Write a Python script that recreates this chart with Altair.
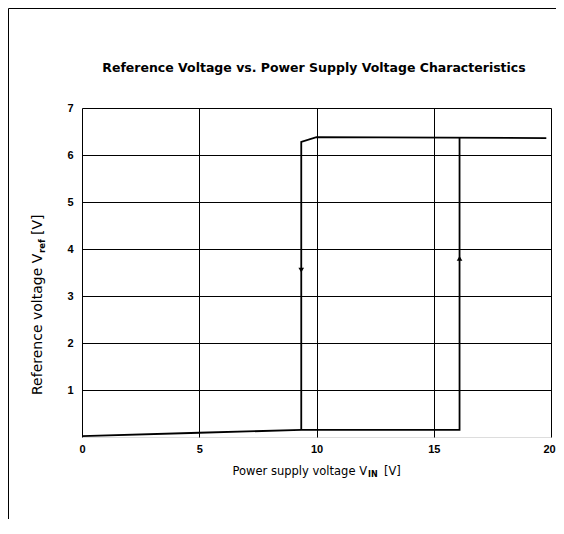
import altair as alt
import pandas as pd

# ---- text ----
title_text = "Reference Voltage vs. Power Supply Voltage Characteristics"
x_title_main = "Power supply voltage V"
x_title_sub = "IN"
y_title_main = "Reference voltage V"
y_title_sub = "ref"
unit_text = "[V]"

# ---- axes ----
x_ticks = [0, 5, 10, 15, 20]
y_ticks = [1, 2, 3, 4, 5, 6, 7]

# ---- data ----
# branch traced while V_IN increases
rise_x = [0, 5, 9.35, 16.1, 16.1]
rise_y = [0.02, 0.09, 0.15, 0.15, 6.37]
# branch traced while V_IN decreases
fall_x = [19.8, 10, 9.35, 9.35]
fall_y = [6.36, 6.38, 6.28, 0.15]

arrow_x = [9.35, 16.1]
arrow_y = [3.55, 3.8]
arrow_shape = ["triangle-down", "triangle-up"]

W, H = 469, 329
PAD = {"left": 74, "top": 100, "right": 5, "bottom": 82}
FONT = "Liberation Sans"
TFONT = "DejaVu Sans"

rows = []
for i, (x, y) in enumerate(zip(rise_x, rise_y)):
    rows.append({"x": x, "y": y, "branch": "rise", "o": i})
for i, (x, y) in enumerate(zip(fall_x, fall_y)):
    rows.append({"x": x, "y": y, "branch": "fall", "o": i})
line_df = pd.DataFrame(rows)
arrow_df = pd.DataFrame({"x": arrow_x, "y": arrow_y, "shape": arrow_shape})

xscale = alt.Scale(domain=[0, 20], nice=False)
yscale = alt.Scale(domain=[0, 7], nice=False)

xaxis = alt.Axis(values=x_ticks, title=None, grid=True, ticks=False, domain=False,
                 labelFont=FONT, labelFontSize=11, labelFontWeight="bold",
                 labelColor="black", labelPadding=6, gridColor="black",
                 gridOpacity=1, gridWidth=1, labelFlush=False,
                 labelOffset={"expr": "datum.value == 20 ? -2 : 0"})
yaxis = alt.Axis(values=y_ticks, title=None, grid=True, ticks=False, domain=False,
                 labelFont=FONT, labelFontSize=11, labelFontWeight="bold",
                 labelColor="black", labelPadding=9, gridColor="black",
                 gridOpacity=1, gridWidth=1)

lines = alt.Chart(line_df).mark_line(color="black", strokeWidth=1.8).encode(
    x=alt.X("x:Q", scale=xscale, axis=xaxis),
    y=alt.Y("y:Q", scale=yscale, axis=yaxis),
    detail="branch:N",
    order="o:Q",
)

arrows = alt.Chart(arrow_df).mark_point(filled=True, color="black", size=32, opacity=1).encode(
    x=alt.X("x:Q", scale=xscale),
    y=alt.Y("y:Q", scale=yscale),
    shape=alt.Shape("shape:N", scale=None),
)


def txt(s, x, y, size, weight="normal", align="left", angle=0, font=TFONT):
    return alt.Chart(pd.DataFrame({"t": [s]})).mark_text(
        font=font, fontSize=size, fontWeight=weight, align=align,
        baseline="middle", angle=angle, color="black",
    ).encode(x=alt.value(x), y=alt.value(y), text="t:N")


title = txt(title_text, 232, -40, 12.5, "bold", "center")
xt1 = txt(x_title_main, 285, 364, 11.5, "normal", "right")
xt2 = txt(x_title_sub, 286, 367, 8, "bold", "left")
xt3 = txt(unit_text, 302, 364, 11.5, "normal", "left")
yt1 = txt(y_title_main, -44, 287, 14, "normal", "left", 270)
yt2 = txt(y_title_sub, -40, 145, 8.5, "bold", "left", 270)
yt3 = txt(unit_text, -44, 127, 14, "normal", "left", 270)

frame_left = alt.Chart(pd.DataFrame({"a": [0]})).mark_rule(color="black", strokeWidth=1).encode(
    x=alt.value(-73.5), y=alt.value(-99.5), y2=alt.value(H + PAD["bottom"]))
frame_top = alt.Chart(pd.DataFrame({"a": [0]})).mark_rule(color="black", strokeWidth=1).encode(
    x=alt.value(-73.5), x2=alt.value(W + PAD["right"]), y=alt.value(-99.5))

chart = alt.layer(
    lines, arrows, title, xt1, xt2, xt3, yt1, yt2, yt3, frame_left, frame_top
).properties(
    width=W, height=H,
    autosize=alt.AutoSizeParams(type="none"),
    padding=PAD,
).configure_view(
    stroke="black", strokeWidth=1.3
).configure(background="white")

chart.save("out.html", embed_options={"renderer": "svg", "actions": False})
